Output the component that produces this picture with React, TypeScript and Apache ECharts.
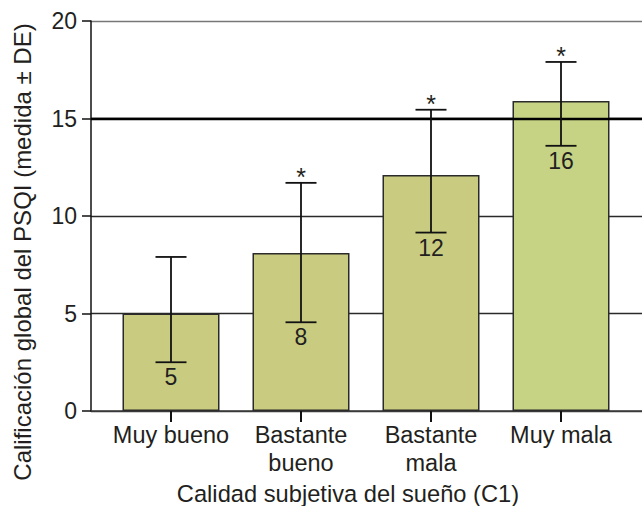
import React, { useEffect, useRef } from "react";
import * as echarts from "echarts";

const categories = ["Muy bueno", "Bastante\nbueno", "Bastante\nmala", "Muy mala"];
const means = [5.0, 8.1, 12.1, 15.9];
const sdLow = [2.5, 4.55, 9.15, 13.6];
const sdHigh = [7.9, 11.7, 15.45, 17.9];
const valueLabels = ["5", "8", "12", "16"];
const significant = [false, true, true, true];
const barColors = ["#c9cc80", "#c9cc80", "#c9cc80", "#c6d385"];
const yTicks = [0, 5, 10, 15, 20];

const FONT = "Liberation Sans, Arial, Helvetica, sans-serif";
const TXT = "#231f20";

export default function App() {
  const ref = useRef<HTMLDivElement>(null);
  useEffect(() => {
    if (!ref.current) return;
    const chart = echarts.init(ref.current, undefined, { renderer: "svg" });
    const option: any = {
      animation: false,
      grid: [
        { left: 91, right: 0, top: 21, bottom: 95 },
        { left: 106, right: 16, top: 21, bottom: 95 },
      ],
      xAxis: [
        {
          type: "value",
          gridIndex: 0,
          min: 0,
          max: 1,
          axisLine: { show: true, onZero: false, lineStyle: { color: "#3a3a3a", width: 1.5 } },
          axisTick: { show: false },
          axisLabel: { show: false },
          splitLine: { show: false },
        },
        {
          type: "category",
          gridIndex: 1,
          data: categories,
          axisLine: { show: false },
          axisTick: { show: true, alignWithLabel: true, length: 11, lineStyle: { color: "#111", width: 2 } },
          axisLabel: {
            interval: 0,
            margin: 10,
            fontSize: 23.5,
            lineHeight: 28,
            fontFamily: FONT,
            color: TXT,
          },
        },
      ],
      yAxis: [
        {
          type: "value",
          gridIndex: 0,
          min: yTicks[0],
          max: yTicks[yTicks.length - 1],
          interval: 5,
          axisLine: { show: true, lineStyle: { color: "#111", width: 1.5 } },
          axisTick: { show: true, length: 9, lineStyle: { color: "#111", width: 1.5 } },
          axisLabel: { margin: 14, fontSize: 23, fontFamily: FONT, color: TXT },
          splitLine: {
            show: true,
            lineStyle: { color: ["#3a3a3a", "#2a2a2a", "#2a2a2a", "#000", "#777"], width: 1.3 },
          },
        },
        {
          type: "value",
          gridIndex: 1,
          min: yTicks[0],
          max: yTicks[yTicks.length - 1],
          show: false,
          splitLine: { show: false },
        },
      ],
      series: [
        {
          type: "line",
          xAxisIndex: 0,
          yAxisIndex: 0,
          data: [[0, 0]],
          showSymbol: false,
          lineStyle: { opacity: 0 },
          z: 1,
          silent: true,
          markLine: {
            symbol: "none",
            silent: true,
            label: { show: false },
            lineStyle: { color: "#000", width: 2.4, type: "solid" },
            data: [{ yAxis: 15 }],
          },
        },
        {
          type: "bar",
          xAxisIndex: 1,
          yAxisIndex: 1,
          barWidth: 97,
          z: 3,
          data: means.map((v, i) => ({
            value: v,
            itemStyle: { color: barColors[i], borderColor: "#2b2b2b", borderWidth: 1.5 },
          })),
        },
        {
          type: "custom",
          xAxisIndex: 1,
          yAxisIndex: 1,
          z: 5,
          data: categories.map((_, i) => [i, sdLow[i], sdHigh[i]]),
          renderItem: (params: any, api: any) => {
            const i = params.dataIndex;
            const top = api.coord([api.value(0), api.value(2)]);
            const bot = api.coord([api.value(0), api.value(1)]);
            const x = top[0];
            const hw = 15.5;
            const stroke = { stroke: "#111", lineWidth: 1.8 };
            const children: any[] = [
              { type: "line", shape: { x1: x, y1: top[1], x2: x, y2: bot[1] }, style: stroke },
              { type: "line", shape: { x1: x - hw, y1: top[1], x2: x + hw, y2: top[1] }, style: stroke },
              { type: "line", shape: { x1: x - hw, y1: bot[1], x2: x + hw, y2: bot[1] }, style: stroke },
              {
                type: "text",
                x: x,
                y: bot[1] + 15,
                style: {
                  text: valueLabels[i],
                  font: `23px ${FONT}`,
                  fill: TXT,
                  align: "center",
                  verticalAlign: "middle",
                },
              },
            ];
            if (significant[i]) {
              children.push({
                type: "text",
                x: x,
                y: top[1] - 6,
                style: {
                  text: "*",
                  font: `25px ${FONT}`,
                  fill: TXT,
                  align: "center",
                  verticalAlign: "middle",
                },
              });
            }
            return { type: "group", children };
          },
        },
      ],
      graphic: [
        {
          type: "text",
          x: 22,
          y: 252,
          rotation: Math.PI / 2,
          style: {
            text: "Calificación global del PSQI (medida ± DE)",
            font: `24px ${FONT}`,
            fill: TXT,
            align: "center",
            verticalAlign: "middle",
          },
        },
        {
          type: "text",
          x: 348,
          y: 494,
          style: {
            text: "Calidad subjetiva del sueño (C1)",
            font: `23.7px ${FONT}`,
            fill: TXT,
            align: "center",
            verticalAlign: "middle",
          },
        },
      ],
    };
    chart.setOption(option);
    return () => chart.dispose();
  }, []);
  return (
    <div
      ref={ref}
      style={{ position: "fixed", left: 0, top: 0, width: 642, height: 506, background: "#fff" }}
    />
  );
}
